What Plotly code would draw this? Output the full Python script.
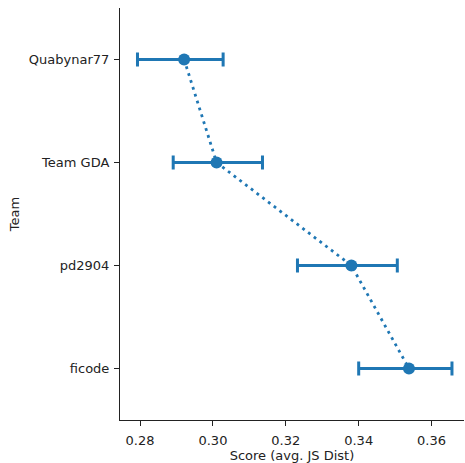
import plotly.graph_objects as go

teams = ["Quabynar77", "Team GDA", "pd2904", "ficode"]
scores = [0.2921, 0.3010, 0.3380, 0.3538]
ci_low = [0.2793, 0.2891, 0.3232, 0.3400]
ci_high = [0.3028, 0.3136, 0.3506, 0.3656]

err_plus = [h - s for h, s in zip(ci_high, scores)]
err_minus = [s - l for s, l in zip(scores, ci_low)]

color = "#1f77b4"
fig = go.Figure()
fig.add_trace(go.Scatter(
    x=scores, y=teams, mode="lines+markers",
    line=dict(color=color, width=2.8, dash="2.8px,4.4px"),
    marker=dict(color=color, size=12),
    error_x=dict(type="data", symmetric=False, array=err_plus, arrayminus=err_minus,
                 color=color, thickness=3, width=7),
    showlegend=False,
))

font = dict(family="DejaVu Sans", size=13, color="#222222")
fig.update_layout(
    width=465, height=463,
    margin=dict(l=120, r=1, t=8, b=43),
    plot_bgcolor="white", paper_bgcolor="white",
    font=font,
    xaxis=dict(range=[0.2745, 0.3689], tickvals=[0.28, 0.30, 0.32, 0.34, 0.36],
               ticktext=["0.28", "0.30", "0.32", "0.34", "0.36"],
               showline=True, linecolor="#222222", linewidth=1.1, mirror=False,
               ticks="outside", ticklen=5, tickwidth=1.1, tickcolor="#222222",
               ticklabelstandoff=3,
               showgrid=False, zeroline=False, automargin=False,
               title=dict(text="Score (avg. JS Dist)", standoff=4, font=font)),
    yaxis=dict(type="category", categoryarray=teams, range=[3.5, -0.5],
               showline=True, linecolor="#222222", linewidth=1.1, mirror=False,
               ticks="outside", ticklen=5, tickwidth=1.1, tickcolor="#222222",
               ticklabelstandoff=2,
               showgrid=False, zeroline=False, automargin=False,
               title=dict(text="Team", standoff=6, font=font)),
)
fig.write_html(
    "out.html",
    config={"displayModeBar": False},
    post_script="document.body.style.margin='0';document.body.style.overflow='hidden';",
)
